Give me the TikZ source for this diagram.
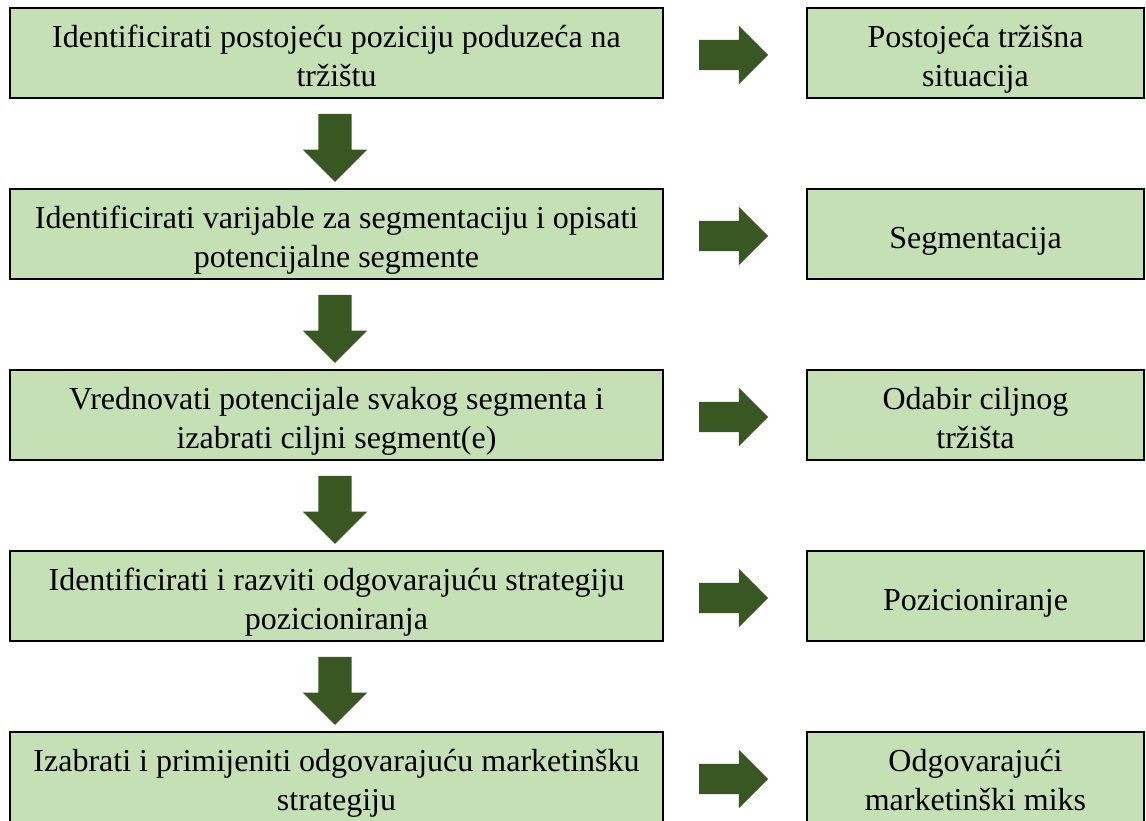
\documentclass[tikz,border=0pt]{standalone}
\usepackage{fontspec}
\setmainfont{Liberation Serif}
\usepackage{tikz}
\usetikzlibrary{positioning,calc,shapes.arrows}

\definecolor{svijetla}{HTML}{C5E0B4}
\definecolor{tamna}{HTML}{385723}

\begin{document}
\begin{tikzpicture}[x=1pt,y=1pt,on grid,node distance=181pt and 639pt,
	korak/.style={draw=black,line width=2.2pt,fill=svijetla,minimum width=653pt,minimum height=90pt,inner ysep=0pt,
		align=center,font=\fontsize{32}{39}\selectfont,text height=78pt,text depth=10pt},
	ishod/.style={korak,minimum width=337pt},
	jedan/.style={text height=40pt},
	strdolje/.style={single arrow,fill=tamna,draw=none,rotate=-90,minimum height=68pt,inner sep=16.5pt,single arrow head extend=15.5pt},
	strdesno/.style={single arrow,fill=tamna,draw=none,minimum height=69pt,inner sep=15pt,single arrow head extend=14pt}]

	\useasboundingbox (0,0) rectangle (1146,821);

	\node[korak] (k1) at (336.5,768) {Identificirati postojeću poziciju poduzeća na\\tržištu};
	\node[korak] (k2) [below=of k1] {Identificirati varijable za segmentaciju i opisati\\potencijalne segmente};
	\node[korak] (k3) [below=of k2] {Vrednovati potencijale svakog segmenta i\\izabrati ciljni segment(e)};
	\node[korak] (k4) [below=of k3] {Identificirati i razviti odgovarajuću strategiju\\pozicioniranja};
	\node[korak] (k5) [below=of k4] {Izabrati i primijeniti odgovarajuću marketinšku\\strategiju};

	\node[ishod] (i1) [right=of k1] {Postojeća tržišna\\situacija};
	\node[ishod,jedan] (i2) [right=of k2] {Segmentacija};
	\node[ishod] (i3) [right=of k3] {Odabir ciljnog\\tržišta};
	\node[ishod,jedan] (i4) [right=of k4] {Pozicioniranje};
	\node[ishod] (i5) [right=of k5] {Odgovarajući\\marketinški miks};

	% strelice prema dolje
	\foreach \a/\b in {k1/k2,k2/k3,k3/k4,k4/k5}
		\node[strdolje] (d-\a) at ($(\a.south)!0.5!(\b.north)+(-1.5,4)$) {};

	% strelice udesno
	\foreach \a/\b in {k1/i1,k2/i2,k3/i3,k4/i4,k5/i5}
		\node[strdesno] (s-\a) at ($(\a.east)!0.5!(\b.west)+(-9,-2)$) {};

\end{tikzpicture}
\end{document}
